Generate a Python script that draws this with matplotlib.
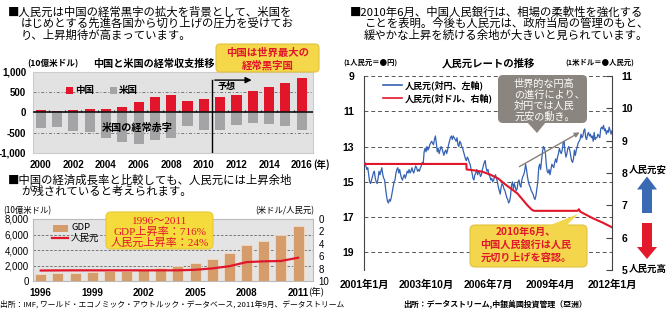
import numpy as np
import matplotlib
matplotlib.use('Agg')
import matplotlib.pyplot as plt
from matplotlib.patches import FancyBboxPatch, Polygon, Rectangle, FancyArrow

plt.rcParams['font.family'] = ['Liberation Sans', 'Noto Sans CJK JP', 'DejaVu Sans']
CJK = ['Noto Sans CJK JP', 'DejaVu Sans']
SERIF = ['Liberation Serif', 'Noto Sans CJK JP']

W, H = 669, 323

# --- current account balance, billions of US$ (2011 onward = forecast)
ca_years = list(range(2000, 2017))
ca_china = [55, 35, 55, 75, 95, 140, 260, 380, 420, 276, 333, 371, 428, 530, 634, 730, 860]
ca_us = [-390, -350, -455, -490, -620, -730, -775, -680, -640, -345, -420, -420,
         -300, -265, -285, -340, -420]
ca_tick_years = [2000, 2002, 2004, 2006, 2008, 2010, 2012, 2014, 2016]

# --- China GDP (billions of US$) and yuan per dollar
gdp_years = list(range(1996, 2012))
gdp_china = [900, 1050, 1050, 1200, 1300, 1350, 1500, 1700, 2000, 2300, 2800, 3550,
             4600, 5100, 6000, 7100]
cny_per_usd_year = [8.31, 8.29, 8.28, 8.28, 8.28, 8.28, 8.28, 8.28, 8.28, 8.19, 7.97,
                    7.61, 6.95, 6.83, 6.77, 6.25]
gdp_tick_years = [1996, 1999, 2002, 2005, 2008, 2011]

# --- yen per yuan, twice a month from Jan 2001 to Jan 2012
jpy_per_cny = [
    14.0, 13.9, 14.1, 14.3, 14.2, 14.6, 15.0, 15.1, 14.9, 14.7, 14.5, 14.4,
    14.8, 15.0, 15.1, 14.8, 14.4, 14.6, 14.4, 14.2, 14.6, 14.8, 14.9, 15.4,
    15.8, 16.1, 16.2, 16.0, 16.1, 15.9, 15.6, 15.3, 15.0, 14.9, 14.5, 14.3,
    14.2, 14.5, 14.3, 14.6, 14.8, 14.9, 14.7, 14.6, 14.8, 14.6, 14.4, 14.5,
    14.3, 14.5, 14.4, 14.2, 14.4, 14.5, 14.3, 14.1, 14.2, 14.4, 14.3, 14.4,
    14.2, 14.1, 13.9, 14.0, 13.3, 13.1, 13.3, 13.0, 13.2, 13.1, 12.9, 12.8,
    12.7, 12.8, 12.9, 12.6, 12.4, 12.8, 13.3, 13.1, 13.4, 13.2, 13.0, 13.1,
    13.3, 13.5, 13.3, 13.2, 13.4, 13.2, 12.9, 12.7, 12.5, 12.4, 12.6, 12.4,
    12.5, 12.6, 12.7, 12.5, 12.9, 13.0, 12.7, 12.8, 13.0, 13.1, 13.3, 13.5,
    13.7, 13.8, 13.6, 13.7, 13.9, 14.0, 14.3, 14.5, 14.8, 14.9, 14.6, 14.5,
    14.3, 14.6, 14.4, 14.5, 14.7, 14.6, 14.3, 14.1, 13.9, 13.8, 14.2, 14.4,
    14.3, 14.6, 14.7, 14.9, 14.8, 15.0, 14.9, 14.7, 14.6, 14.8, 15.0, 15.3,
    15.5, 15.7, 15.3, 15.1, 15.2, 15.4, 15.5, 15.7, 15.9, 16.0, 16.2, 16.1,
    15.8, 15.2, 15.0, 15.4, 15.1, 15.3, 15.5, 15.4, 15.0, 14.9, 15.2, 15.3,
    14.9, 14.7, 14.6, 14.4, 14.0, 14.3, 14.7, 15.0, 15.2, 15.3, 15.5, 15.6,
    15.7, 15.9, 16.0, 15.8, 15.4, 15.0, 14.2, 14.0, 14.3, 13.8, 13.3, 13.0,
    13.1, 13.3, 14.0, 14.4, 14.5, 14.3, 14.6, 14.3, 14.0, 14.1, 14.2, 13.9,
    13.7, 13.9, 13.6, 13.4, 13.1, 13.3, 13.4, 13.2, 12.8, 12.7, 13.3, 13.6,
    13.4, 13.1, 13.0, 13.2, 13.5, 13.8, 13.9, 13.7, 13.2, 13.5, 13.2, 13.0,
    12.8, 12.7, 12.6, 12.3, 12.5, 12.4, 12.1, 12.0, 12.5, 12.6, 12.3, 12.2,
    12.4, 12.3, 12.5, 12.4, 12.7, 12.2, 12.6, 12.5, 12.5, 12.3, 12.4, 12.5,
    12.0, 11.9, 12.0, 11.8, 12.1, 12.0, 12.3, 12.1, 12.2, 11.9, 12.1, 12.3,
    12.1,
]
jpy_dates = 2001 + np.arange(len(jpy_per_cny)) / 24

# yuan per dollar (turning points)
usd_dates = [2001.0, 2005.54, 2005.55, 2005.9, 2006.25, 2006.6, 2006.95, 2007.3, 2007.8,
             2008.25, 2008.45, 2008.55, 2010.45, 2010.5, 2010.53, 2010.6, 2011.15,
             2011.6, 2012.0]
usd_rate = [8.28, 8.28, 8.11, 8.08, 8.04, 7.95, 7.83, 7.63, 7.37, 7.00, 6.86, 6.83,
            6.83, 6.84, 6.88, 6.80, 6.60, 6.46, 6.32]
rate_ticks = [2001.0, 2003.75, 2006.5, 2009.25, 2012.0]
rate_labels = ['2001年1月', '2003年10月', '2006年7月', '2009年4月', '2012年1月']

RED = '#e1162b'
GRAY = '#a4a4a7'
TAN = '#d59d6b'
BLUE = '#3562b3'


def box(x0, y0, x1, y1):
    return [x0 / W, 1 - y1 / H, (x1 - x0) / W, (y1 - y0) / H]


fig = plt.figure(figsize=(W / 100, H / 100), dpi=100)

# ---------------- current account chart
ax1 = fig.add_axes(box(33, 72, 313, 153))
ax1.set_facecolor('#e2e2e2')
ax1.bar(ca_years, ca_china, width=0.62, color=RED, zorder=3)
ax1.bar(ca_years, ca_us, width=0.62, color=GRAY, zorder=3)
ax1.set_xlim(1999.53, 2016.69)
ax1.set_ylim(-1000, 1000)
ax1.axhline(0, color='#111111', lw=1.2, zorder=4)
for v in (500, -500):
    ax1.axhline(v, color='#777777', lw=0.7, ls=(0, (3, 2, 1, 2)), zorder=1)
ax1.vlines(np.arange(2000.5, 2016), 0, 70, color='#111111', lw=0.8, zorder=4)
ax1.plot([2010.5, 2010.5], [800, -1000], color='k', lw=1, zorder=5)
ax1.annotate('', xy=(2013.1, 800), xytext=(2010.5, 800),
             arrowprops=dict(arrowstyle='-|>', color='k', lw=1, mutation_scale=9))
ax1.text(2011.4, 630, '予想', fontsize=6.5, fontweight='bold', ha='center', va='center',
         zorder=6)
ax1.set_yticks([1000, 500, 0, -500, -1000])
ax1.set_yticklabels(['1,000', '500', '0', '-500', '-1,000'])
ax1.set_xticks(ca_tick_years)
ax1.set_xticklabels([str(y) for y in ca_tick_years])
ax1.tick_params(axis='both', length=0, labelsize=7)
ax1.tick_params(axis='y', pad=5)
ax1.tick_params(axis='x', pad=5)
for lab in ax1.get_xticklabels() + ax1.get_yticklabels():
    lab.set_fontweight('bold')
for s in ax1.spines.values():
    s.set_color('#cccccc')
    s.set_linewidth(0.8)

# ---------------- GDP chart
ax2 = fig.add_axes(box(33, 219, 313, 281))
ax2.set_facecolor('#e4e4e4')
ax2.bar(gdp_years, gdp_china, width=0.64, color=TAN, edgecolor='#f2dcc6', lw=0.6, zorder=3)
ax2.set_xlim(1995.55, 2011.87)
ax2.set_ylim(0, 8000)
for v in (2000, 4000, 6000):
    ax2.axhline(v, color='#666666', lw=0.6, ls=(0, (3, 2)), zorder=1)
ax2.set_yticks([0, 2000, 4000, 6000, 8000])
ax2.set_yticklabels(['0', '2,000', '4,000', '6,000', '8,000'])
ax2.set_xticks(gdp_tick_years)
ax2.set_xticklabels([str(y) for y in gdp_tick_years])
ax2.tick_params(axis='both', length=0, labelsize=7)
ax2.tick_params(axis='y', pad=3)
ax2.tick_params(axis='x', pad=5)
for lab in ax2.get_xticklabels():
    lab.set_fontweight('bold')
for s in ax2.spines.values():
    s.set_color('#bbbbbb')
    s.set_linewidth(0.8)
ax2r = ax2.twinx()
ax2r.plot(gdp_years, cny_per_usd_year, color=RED, lw=1.6, zorder=5)
ax2r.set_ylim(10, 0)
ax2r.set_yticks([0, 2, 4, 6, 8, 10])
ax2r.tick_params(axis='y', length=0, labelsize=7, pad=4)
for s in ax2r.spines.values():
    s.set_visible(False)

# ---------------- yuan rate chart
ax3 = fig.add_axes(box(364, 76, 612, 270))
ax3.set_facecolor('none')
ax3.plot(jpy_dates, jpy_per_cny, color=BLUE, lw=0.9, zorder=3)
ax3.set_xlim(2001, 2012)
ax3.set_ylim(20, 9)
for v in (9, 11, 13, 15, 17, 19):
    ax3.axhline(v, color='#555555', lw=0.7, ls=(0, (4, 3)), zorder=1, clip_on=False)
ax3.set_yticks([9, 11, 13, 15, 17, 19])
ax3.set_xticks(rate_ticks)
ax3.set_xticklabels(rate_labels)
ax3.tick_params(axis='both', length=0, labelsize=7.5)
ax3.tick_params(axis='y', pad=7)
ax3.tick_params(axis='x', pad=7)
for lab in ax3.get_xticklabels() + ax3.get_yticklabels():
    lab.set_fontweight('bold')
ax3.spines['top'].set_visible(False)
ax3.spines['bottom'].set_visible(False)
ax3.spines['right'].set_visible(False)
ax3.spines['left'].set_color('#444444')
ax3r = ax3.twinx()
ax3r.plot(usd_dates, usd_rate, color=RED, lw=1.5, zorder=5)
ax3r.set_xlim(2001, 2012)
ax3r.set_ylim(5, 11)
ax3r.set_yticks([5, 6, 7, 8, 9, 10, 11])
ax3r.tick_params(axis='y', direction='in', length=4, width=0.8, color='#444444',
                 labelsize=7.5, pad=7)
for lab in ax3r.get_yticklabels():
    lab.set_fontweight('bold')
for side in ('top', 'bottom', 'left'):
    ax3r.spines[side].set_visible(False)
ax3r.spines['right'].set_color('#444444')

# ---------------- text, boxes and arrows on top, in pixel units
ax0 = fig.add_axes([0, 0, 1, 1], zorder=10)
ax0.set_xlim(0, W)
ax0.set_ylim(H, 0)
ax0.axis('off')
ax0.patch.set_alpha(0)


def txt(x, y, s, size=7, **kw):
    kw.setdefault('va', 'center')
    kw.setdefault('family', CJK)
    ax0.text(x, y, s, fontsize=size, **kw)


# headings
head = 8.2
txt(8, 12, '■人民元は中国の経常黒字の拡大を背景として、米国を', head)
txt(21, 23.5, 'はじめとする先進各国から切り上げの圧力を受けてお', head)
txt(21, 35, 'り、上昇期待が高まっています。', head)
txt(8, 180, '■中国の経済成長率と比較しても、人民元には上昇余地', head)
txt(21, 191.5, 'が残されていると考えられます。', head)
txt(350, 12, '■2010年6月、中国人民銀行は、相場の柔軟性を強化する', head)
txt(364, 23.5, 'ことを表明。今後も人民元は、政府当局の管理のもと、', head)
txt(364, 35, '緩やかな上昇を続ける余地が大きいと見られています。', head)

# current account chart labels
txt(27, 64, '(10億米ドル)', 6.2, fontweight='bold')
txt(93, 64, '中国と米国の経常収支推移', 7.3, fontweight='bold')
ax0.add_patch(FancyBboxPatch((216, 44), 103, 28, boxstyle='round,pad=0,rounding_size=4',
                             fc='#f4d84a', ec='#e2c23e', lw=0.8))
txt(267.5, 52.5, '中国は世界最大の', 7.5, color=RED, fontweight='bold', ha='center')
txt(267.5, 65, '経常黒字国', 7.5, color=RED, fontweight='bold', ha='center')
ax0.add_patch(Rectangle((66, 87), 6.5, 6.5, fc=RED, ec='none'))
txt(75, 90.5, '中国', 6.8, fontweight='bold')
ax0.add_patch(Rectangle((110, 87), 6.5, 6.5, fc=GRAY, ec='none'))
txt(119, 90.5, '米国', 6.8, fontweight='bold')
txt(137, 127.5, '米国の経常赤字', 7.3, fontweight='bold', ha='center')
txt(313.5, 164.5, '(年)', 6.8, fontweight='bold')

# GDP chart labels
txt(3, 211, '(10億米ドル)', 6)
txt(255, 211, '(米ドル/人民元)', 6)
ax0.add_patch(FancyBboxPatch((106, 212), 107, 37, boxstyle='round,pad=0,rounding_size=5',
                             fc='#f5dc3c', ec='#e6c83a', lw=0.8))
txt(159.5, 221, '1996～2011', 8, color=RED, ha='center', family=SERIF)
txt(159.5, 232, 'GDP上昇率：716%', 8, color=RED, ha='center', family=SERIF)
txt(159.5, 243, '人民元上昇率：24%', 8, color=RED, ha='center', family=SERIF)
ax0.add_patch(Rectangle((53, 224.5), 15, 7, fc=TAN, ec='none'))
txt(71, 228, 'GDP', 6.8)
ax0.plot([52, 68], [238, 238], color=RED, lw=1.6)
txt(71, 238.5, '人民元', 6.8)
txt(308.5, 291.5, '(年)', 6.8)
txt(0, 304, '出所：IMF, ワールド・エコノミック・アウトルック・データベース, 2011年9月、データストリーム', 5.6)

# yuan rate chart labels
txt(488, 63, '人民元レートの推移', 7.5, fontweight='bold', ha='center')
txt(343, 62, '(1人民元＝●円)', 5.3, fontweight='bold')
txt(565, 62, '(1米ドル＝●人民元)', 5.3, fontweight='bold')
ax0.plot([383, 402], [85, 85], color=BLUE, lw=1.2)
txt(405, 85.5, '人民元(対円、左軸)', 6.5, fontweight='bold')
ax0.plot([383, 402], [98, 98], color=RED, lw=1.2)
txt(405, 98.5, '人民元(対ドル、右軸)', 6.5, fontweight='bold')

ax0.annotate('', xy=(582, 131), xytext=(517, 168),
             arrowprops=dict(arrowstyle='-|>', color='#8a8078', lw=1, mutation_scale=7))
ax0.add_patch(FancyBboxPatch((498, 75), 89, 48, boxstyle='round,pad=0,rounding_size=5',
                             fc='#8b857f', ec='none'))
ax0.add_patch(Polygon([(527, 122), (546, 122), (537, 133)], closed=True, fc='#8b857f', ec='none'))
for i, line in enumerate(['世界的な円高', 'の進行により、', '対円では人民', '元安の動き。']):
    txt(514, 83.5 + i * 11, line, 7.3, color='white')

ax0.add_patch(FancyBboxPatch((470, 225), 117, 42, boxstyle='round,pad=0,rounding_size=5',
                             fc='#f3d64c', ec='#e2c23e', lw=0.8))
ax0.add_patch(Polygon([(548, 226), (566, 226), (578, 214)], closed=True, fc='#f3d64c', ec='none'))
for i, line in enumerate(['2010年6月、', '中国人民銀行は人民', '元切り上げを容認。']):
    txt(526, 232 + i * 13, line, 7.3, color=RED, fontweight='bold', ha='center')

ax0.add_patch(FancyArrow(647, 213, 0, -36.5, width=10, head_width=20, head_length=13,
                         length_includes_head=True, fc='#3a6ab3', ec='none'))
ax0.add_patch(FancyArrow(647, 223, 0, 36, width=10, head_width=20, head_length=12,
                         length_includes_head=True, fc='#e31a2c', ec='none'))
txt(648, 170, '人民元安', 6.8, fontweight='bold', ha='center')
txt(648, 268.5, '人民元高', 6.8, fontweight='bold', ha='center')
txt(495, 304, '出所：データストリーム,中銀萬國投資管理（亞洲）', 5.7, fontweight='bold', ha='center')

fig.savefig('out.png', dpi=100)
